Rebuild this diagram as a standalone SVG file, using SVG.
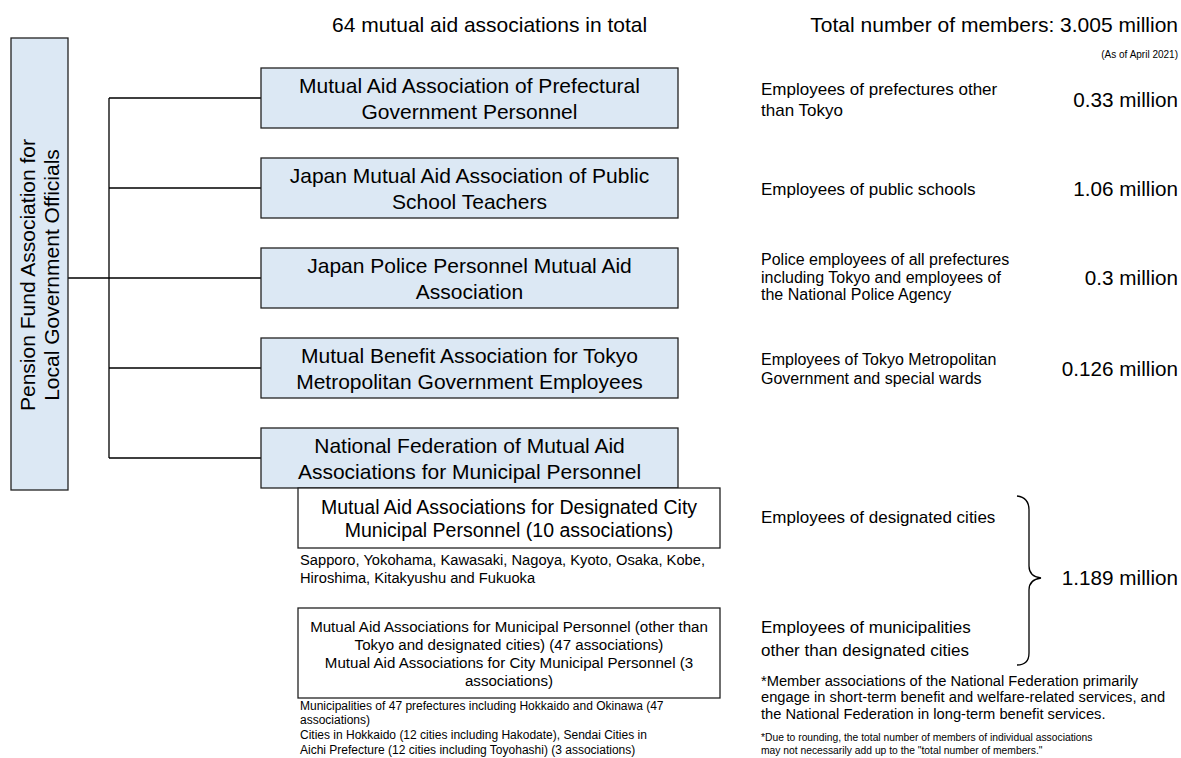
<svg xmlns="http://www.w3.org/2000/svg" width="1181" height="758" viewBox="0 0 1181 758">
<style>
text{font-family:"Liberation Sans",Arial,sans-serif;fill:#000}
.box{fill:#dce8f4;stroke:#222;stroke-width:1.3}
.wbox{fill:#fff;stroke:#222;stroke-width:1.3}
.conn{fill:none;stroke:#000;stroke-width:1.3}
.b{font-size:21px;text-anchor:middle}
.v{font-size:20.7px;text-anchor:end}
.d17{font-size:17px}
.d16{font-size:16px}
</style>
<rect width="1181" height="758" fill="#fff"/>
<g id="header">
<text x="332" y="32" font-size="21">64 mutual aid associations in total</text>
<text x="1178" y="32" font-size="21" text-anchor="end">Total number of members: 3.005 million</text>
<text x="1178" y="58" font-size="10" text-anchor="end">(As of April 2021)</text>
</g>
<g id="connectors">
<path class="conn" d="M68,278 H261 M109,98 V458 M109,98 H261 M109,188 H261 M109,368 H261 M109,458 H261"/>
<path class="conn" stroke-width="1.1" d="M1017,496 C1025,497 1029,501 1029,510 L1029,566 C1029,573 1033,577 1041,578 C1033,579 1029,583 1029,590 L1029,653 C1029,661 1025,665 1017,665"/>
</g>
<g id="pension-fund">
<rect class="box" x="11" y="38" width="57" height="452"/>
<text class="b" transform="translate(35,275) rotate(-90)">Pension Fund Association for</text>
<text class="b" transform="translate(59,275) rotate(-90)">Local Government Officials</text>
</g>
<g id="prefectural">
<rect class="box" x="261" y="68" width="417" height="60"/>
<text class="b" x="469.5" y="93">Mutual Aid Association of Prefectural</text>
<text class="b" x="469.5" y="118.5">Government Personnel</text>
</g>
<g id="teachers">
<rect class="box" x="261" y="158" width="417" height="60"/>
<text class="b" x="469.5" y="183">Japan Mutual Aid Association of Public</text>
<text class="b" x="469.5" y="208.5">School Teachers</text>
</g>
<g id="police">
<rect class="box" x="261" y="248" width="417" height="60"/>
<text class="b" x="469.5" y="273">Japan Police Personnel Mutual Aid</text>
<text class="b" x="469.5" y="298.5">Association</text>
</g>
<g id="tokyo">
<rect class="box" x="261" y="338" width="417" height="60"/>
<text class="b" x="469.5" y="363">Mutual Benefit Association for Tokyo</text>
<text class="b" x="469.5" y="388.5">Metropolitan Government Employees</text>
</g>
<g id="national-federation">
<rect class="box" x="261" y="428" width="417" height="60"/>
<text class="b" x="469.5" y="453">National Federation of Mutual Aid</text>
<text class="b" x="469.5" y="478.5">Associations for Municipal Personnel</text>
</g>
<g id="designated-city">
<rect class="wbox" x="298" y="488" width="422" height="60"/>
<text x="509" y="514" font-size="19.5" text-anchor="middle">Mutual Aid Associations for Designated City</text>
<text x="509" y="537" font-size="19.5" text-anchor="middle">Municipal Personnel (10 associations)</text>
<text x="300" y="565" font-size="14.7">Sapporo, Yokohama, Kawasaki, Nagoya, Kyoto, Osaka, Kobe,</text>
<text x="300" y="583" font-size="14.7">Hiroshima, Kitakyushu and Fukuoka</text>
</g>
<g id="municipal">
<rect class="wbox" x="298" y="608" width="422" height="90"/>
<text x="509" y="631.5" font-size="15.1" text-anchor="middle">Mutual Aid Associations for Municipal Personnel (other than</text>
<text x="509" y="649.5" font-size="15.1" text-anchor="middle">Tokyo and designated cities) (47 associations)</text>
<text x="509" y="667.5" font-size="15.1" text-anchor="middle">Mutual Aid Associations for City Municipal Personnel (3</text>
<text x="509" y="685.5" font-size="15.1" text-anchor="middle">associations)</text>
<text x="300" y="709.5" font-size="12">Municipalities of 47 prefectures including Hokkaido and Okinawa (47</text>
<text x="300" y="724.2" font-size="12">associations)</text>
<text x="300" y="738.9" font-size="12">Cities in Hokkaido (12 cities including Hakodate), Sendai Cities in</text>
<text x="300" y="753.6" font-size="12">Aichi Prefecture (12 cities including Toyohashi) (3 associations)</text>
</g>
<g id="members">
<text class="d17" x="761" y="95">Employees of prefectures other</text>
<text class="d17" x="761" y="116">than Tokyo</text>
<text class="v" x="1178" y="106.5">0.33 million</text>
<text class="d17" x="761" y="195">Employees of public schools</text>
<text class="v" x="1178" y="196">1.06 million</text>
<text class="d16" x="761" y="265">Police employees of all prefectures</text>
<text class="d16" x="761" y="283">including Tokyo and employees of</text>
<text class="d16" x="761" y="300">the National Police Agency</text>
<text class="v" x="1178" y="285">0.3 million</text>
<text class="d16" x="761" y="365">Employees of Tokyo Metropolitan</text>
<text class="d16" x="761" y="384">Government and special wards</text>
<text class="v" x="1178" y="376">0.126 million</text>
<text class="d17" x="761" y="523">Employees of designated cities</text>
<text class="d17" x="761" y="633">Employees of municipalities</text>
<text class="d17" x="761" y="656">other than designated cities</text>
<text class="v" x="1178" y="585">1.189 million</text>
</g>
<g id="notes">
<text x="761" y="685.5" font-size="14.7">*Member associations of the National Federation primarily</text>
<text x="761" y="702" font-size="14.7">engage in short-term benefit and welfare-related services, and</text>
<text x="761" y="718.5" font-size="14.7">the National Federation in long-term benefit services.</text>
<text x="761" y="740.5" font-size="10.3">*Due to rounding, the total number of members of individual associations</text>
<text x="761" y="753.5" font-size="10.3">may not necessarily add up to the "total number of members."</text>
</g>
</svg>
